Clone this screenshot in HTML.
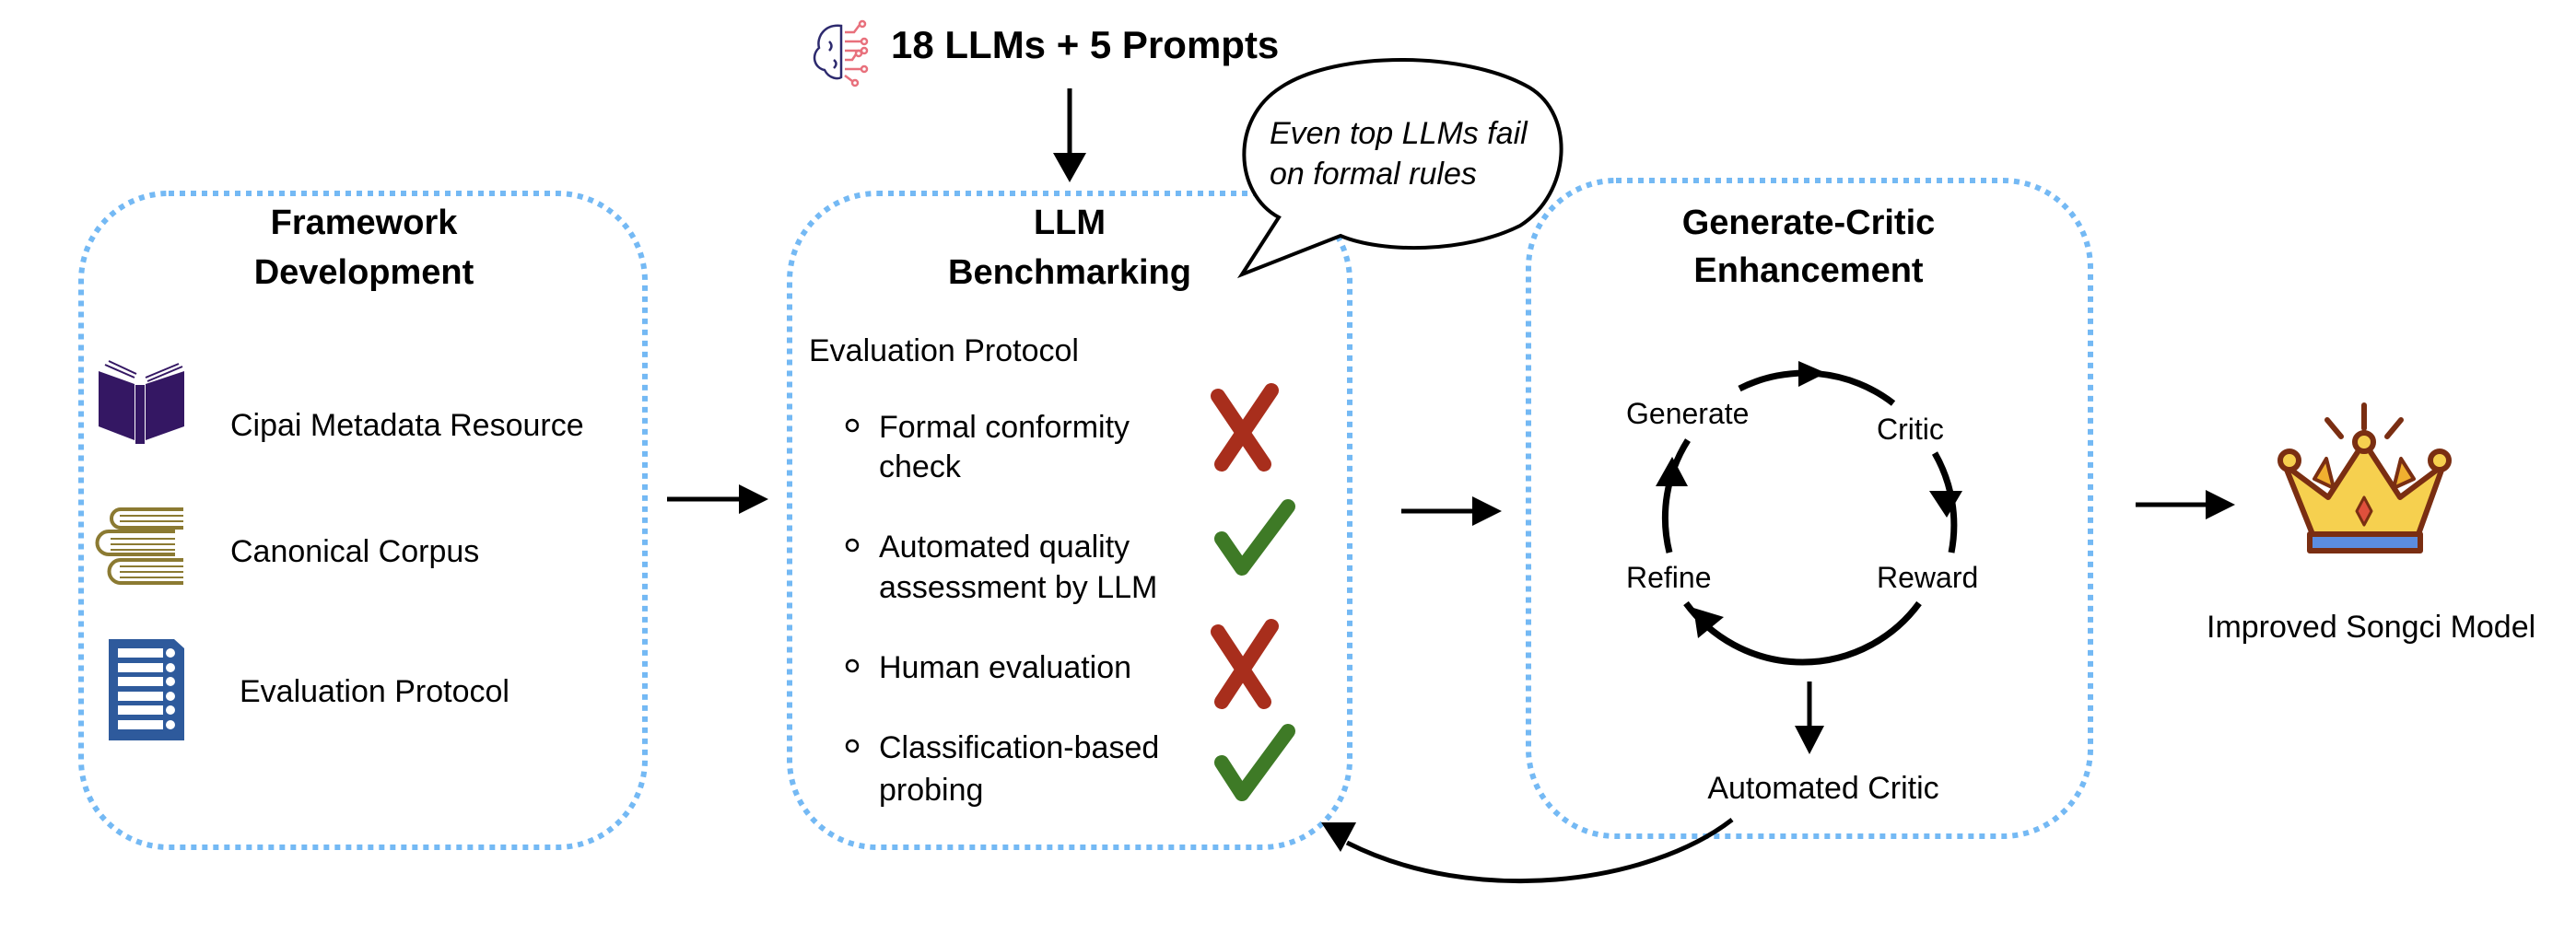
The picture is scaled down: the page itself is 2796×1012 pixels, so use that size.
<!DOCTYPE html>
<html><head><meta charset="utf-8"><style>
html,body{margin:0;padding:0;background:#fff;}
svg{display:block;}
text{font-family:"Liberation Sans",sans-serif;fill:#000;}
.t{font-weight:bold;font-size:38px;}
.l{font-size:34px;}
</style></head><body>
<svg width="2796" height="1012" viewBox="0 0 2796 1012" xmlns="http://www.w3.org/2000/svg">
<g fill="none" stroke="#74b9f4" stroke-width="6" stroke-dasharray="6 6">
<rect x="88" y="210" width="612" height="710" rx="95"/>
<rect x="857" y="210" width="608" height="710" rx="95"/>
<rect x="1659" y="196" width="610" height="712" rx="95"/>
</g>

<text class="t" x="395" y="254" text-anchor="middle">Framework</text>
<text class="t" x="395" y="308" text-anchor="middle">Development</text>
<text class="t" x="1161" y="254" text-anchor="middle">LLM</text>
<text class="t" x="1161" y="308" text-anchor="middle">Benchmarking</text>
<text class="t" x="1963" y="254" text-anchor="middle">Generate-Critic</text>
<text class="t" x="1963" y="306" text-anchor="middle">Enhancement</text>

<g fill="none" stroke-width="2.5">
<path d="M913,28 C895,26 886,40 889,52 C880,60 884,74 895,76 C900,86 910,86 913,84 Z" stroke="#2d2a6e"/>
<path d="M900,45 q5,5 0,10 M905,65 q5,4 0,9" stroke="#2d2a6e"/>
<path d="M917,35 h10 l6,-8 M917,45 h18 M917,55 h18 M917,65 h8 l4,-6 M917,75 h18 M917,82 l8,6" stroke="#e8707c"/>
<circle cx="936" cy="26" r="3" stroke="#e8707c"/><circle cx="938" cy="45" r="3" stroke="#e8707c"/><circle cx="938" cy="55" r="3" stroke="#e8707c"/><circle cx="932" cy="58" r="3" stroke="#e8707c"/><circle cx="938" cy="75" r="3" stroke="#e8707c"/><circle cx="928" cy="90" r="3" stroke="#e8707c"/>
</g>
<text x="967" y="63" style="font-weight:bold;font-size:42px">18 LLMs + 5 Prompts</text>
<line x1="1161" y1="96" x2="1161" y2="170" stroke="#000" stroke-width="5"/>
<path d="M1143,166 L1179,166 L1161,198 Z" fill="#000"/>

<path d="M1388,236 C1340,210 1335,130 1390,95 C1450,55 1590,55 1660,95 C1710,125 1705,210 1650,245 C1590,275 1500,275 1455,256 L1348,298 Z" fill="#fff" stroke="#000" stroke-width="4"/>
<text x="1378" y="156" style="font-style:italic;font-size:34px">Even top LLMs fail</text>
<text x="1378" y="200" style="font-style:italic;font-size:34px">on formal rules</text>

<!-- book icon -->
<g>
<path d="M107,403 L146,417 L146,478 L107,463 Z M158,417 L200,403 L200,463 L158,478 Z" fill="#341763"/>
<rect x="147" y="418" width="10" height="64" fill="#341763"/>
<path d="M114,396 l32,14 M118,392 l30,14 M158,410 l36,-15 M160,414 l38,-16" stroke="#341763" stroke-width="2" fill="none"/>
</g>
<text class="l" x="250" y="473">Cipai Metadata Resource</text>
<g fill="none" stroke="#8b7a32" stroke-width="4">
<path d="M199,553 h-68 a9,9 0 0 0 0,20 h68"/>
<path d="M190,577 h-72 a9,9 0 0 0 0,25 h72"/>
<path d="M199,608 h-68 a10,10 0 0 0 0,25 h68"/>
<path d="M130,560 h69 M130,566 h69 M120,585 h70 M120,591 h70 M120,597 h70 M130,615 h69 M130,621 h69 M130,627 h69" stroke-width="2"/>
</g>
<text class="l" x="250" y="610">Canonical Corpus</text>
<g>
<path d="M118,694 L189,694 L200,704 L200,804 L118,804 Z" fill="#2e5a9c"/>
<g fill="#fff">
<rect x="128" y="704" width="49" height="10"/><rect x="128" y="720" width="49" height="10"/><rect x="128" y="735" width="49" height="10"/><rect x="128" y="751" width="49" height="10"/><rect x="128" y="766" width="49" height="10"/><rect x="128" y="782" width="49" height="10"/>
<circle cx="185" cy="709" r="5"/><circle cx="185" cy="725" r="5"/><circle cx="185" cy="740" r="5"/><circle cx="185" cy="756" r="5"/><circle cx="185" cy="771" r="5"/><circle cx="185" cy="787" r="5"/>
</g>
</g>
<text class="l" x="260" y="762">Evaluation Protocol</text>

<text class="l" x="878" y="392">Evaluation Protocol</text>
<g fill="none" stroke="#000" stroke-width="2.5">
<circle cx="925" cy="462" r="6"/><circle cx="925" cy="592" r="6"/><circle cx="925" cy="723" r="6"/><circle cx="925" cy="810" r="6"/>
</g>
<text class="l" x="954" y="475">Formal conformity</text>
<text class="l" x="954" y="518">check</text>
<text class="l" x="954" y="605">Automated quality</text>
<text class="l" x="954" y="649">assessment by LLM</text>
<text class="l" x="954" y="736">Human evaluation</text>
<text class="l" x="954" y="823">Classification-based</text>
<text class="l" x="954" y="869">probing</text>
<g stroke="#a82e1c" stroke-width="16" stroke-linecap="round">
<path d="M1322,430 L1372,504 M1380,424 L1326,504"/>
<path d="M1322,686 L1372,762 M1380,680 L1326,762"/>
</g>
<g fill="none" stroke="#3e7a26" stroke-width="16" stroke-linecap="round" stroke-linejoin="round">
<path d="M1326,585 L1348,617 L1398,550"/>
<path d="M1326,828 L1348,862 L1398,794"/>
</g>

<line x1="724" y1="542" x2="806" y2="542" stroke="#000" stroke-width="5"/>
<path d="M802,526 L834,542 L802,558 Z" fill="#000"/>
<line x1="1521" y1="555" x2="1600" y2="555" stroke="#000" stroke-width="5"/>
<path d="M1598,539 L1630,555 L1598,571 Z" fill="#000"/>
<line x1="2318" y1="548" x2="2396" y2="548" stroke="#000" stroke-width="5"/>
<path d="M2394,532 L2426,548 L2394,564 Z" fill="#000"/>

<g fill="none" stroke="#000" stroke-width="7">
<path d="M1888,422 A157,157 0 0 1 2055,438"/>
<path d="M2100,492 A157,157 0 0 1 2118,600"/>
<path d="M2083,655 A157,157 0 0 1 1830,655"/>
<path d="M1812,600 A157,157 0 0 1 1832,478"/>
</g>
<path d="M1952,392 L1982,405 L1952,420 Z" fill="#000"/>
<path d="M2094,533 L2130,533 L2113,562 Z" fill="#000"/>
<path d="M1843,693 L1838,660 L1871,670 Z" fill="#000"/>
<path d="M1797,528 L1815,496 L1832,528 Z" fill="#000"/>
<text class="l" x="1765" y="460" style="font-size:32px">Generate</text>
<text class="l" x="2037" y="477" style="font-size:32px">Critic</text>
<text class="l" x="1765" y="638" style="font-size:32px">Refine</text>
<text class="l" x="2037" y="638" style="font-size:32px">Reward</text>
<line x1="1964" y1="740" x2="1964" y2="790" stroke="#000" stroke-width="5"/>
<path d="M1948,788 L1980,788 L1964,819 Z" fill="#000"/>
<text class="l" x="1979" y="867" text-anchor="middle">Automated Critic</text>

<path d="M1880,890 C1790,960 1600,985 1462,915" fill="none" stroke="#000" stroke-width="5"/>
<path d="M1434,893 L1472,893 L1455,925 Z" fill="#000"/>

<g stroke="#7a2e12" stroke-width="6" stroke-linejoin="round">
<line x1="2566" y1="440" x2="2566" y2="465" stroke-linecap="round"/>
<line x1="2526" y1="456" x2="2541" y2="474" stroke-linecap="round"/>
<line x1="2606" y1="456" x2="2591" y2="474" stroke-linecap="round"/>
<path d="M2480,505 L2510,580 L2625,580 L2652,505 L2605,540 L2566,480 L2527,540 Z" fill="#f6d04f"/>
<path d="M2512,520 L2525,498 L2533,530 Z M2620,520 L2606,498 L2598,530 Z" fill="#f0b030" stroke-width="4"/>
<circle cx="2485" cy="500" r="10" fill="#f6d04f"/>
<circle cx="2648" cy="500" r="10" fill="#f6d04f"/>
<circle cx="2566" cy="480" r="10" fill="#f6d04f"/>
<path d="M2566,540 L2574,555 L2566,570 L2558,555 Z" fill="#e0503c" stroke-width="3"/>
<rect x="2507" y="580" width="120" height="18" fill="#5b8de0"/>
</g>
<text class="l" x="2395" y="692">Improved Songci Model</text>
</svg>
</body></html>
